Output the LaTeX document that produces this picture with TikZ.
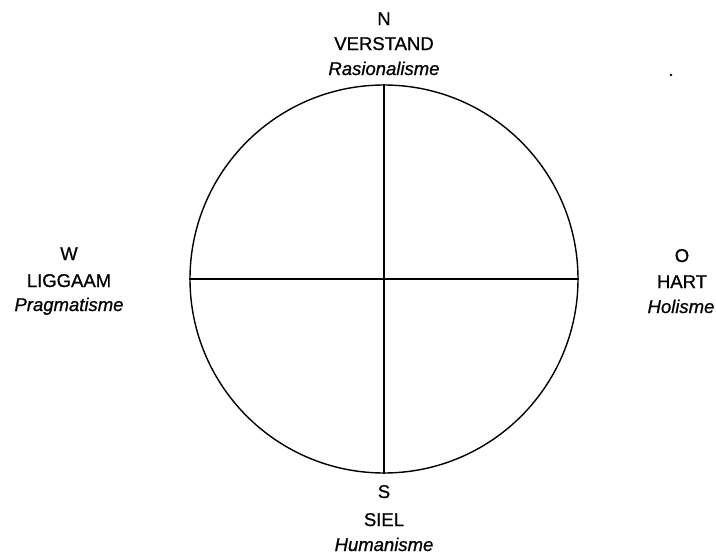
\documentclass[tikz,border=0pt]{standalone}
\usepackage{fontspec}
\setmainfont{Liberation Sans}[FakeBold=0.8]
\begin{document}
\begin{tikzpicture}[x=1pt,y=-1pt,
  lbl/.style={anchor=base,inner sep=0pt,font=\fontsize{18.5}{22}\selectfont},
  ilbl/.style={lbl,font=\fontsize{18.5}{22}\selectfont\itshape},
  ln/.style={line width=1.4pt,black}]
\useasboundingbox (0,0) rectangle (716,554);
\coordinate (c) at (384,279);
\node[circle,draw,line width=1.4pt,minimum size=388pt,inner sep=0pt] (circ) at (c) {};
\draw[ln] (circ.north) -- (circ.south);
\draw[ln] (circ.west) -- (circ.east);
% North
\node[lbl] (n1) at (384,25) {N};
\node[lbl] (n2) at (384,50) {VERSTAND};
\node[ilbl] (n3) at (384,75) {Rasionalisme};
% South
\node[lbl] (s1) at (384,498) {S};
\node[lbl] (s2) at (384,526) {SIEL};
\node[ilbl] (s3) at (384,551) {Humanisme};
% West
\node[lbl] (w1) at (69,260) {W};
\node[lbl] (w2) at (69,287) {LIGGAAM};
\node[ilbl] (w3) at (69,311) {Pragmatisme};
% East
\node[lbl] (e1) at (682,262) {O};
\node[lbl] (e2) at (682,288) {HART};
\node[ilbl] (e3) at (681,313) {Holisme};
% stray dot
\fill (671,75) circle (1.3pt);
\end{tikzpicture}
\end{document}
